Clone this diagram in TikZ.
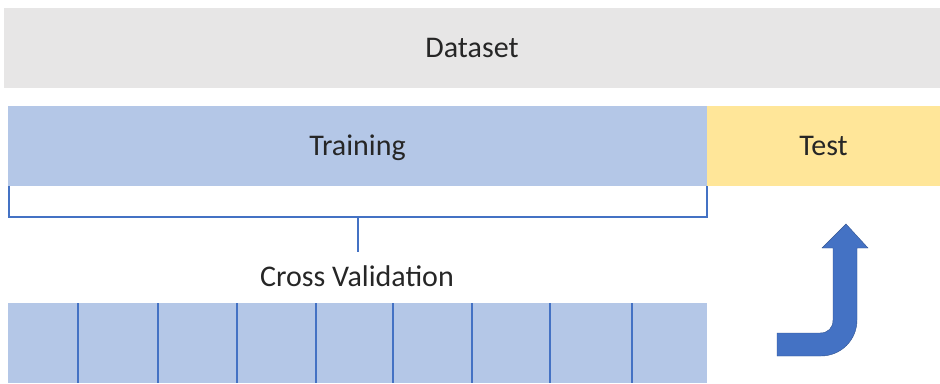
\documentclass[tikz,border=0pt]{standalone}
\usepackage{fontspec}
\setmainfont{Carlito}
\usetikzlibrary{positioning,calc}
\definecolor{dsgrey}{HTML}{E7E6E6}
\definecolor{trainblue}{HTML}{B4C7E7}
\definecolor{testyellow}{HTML}{FFE699}
\definecolor{lineblue}{HTML}{4472C4}
\definecolor{edgeblue}{HTML}{2F528F}

\begin{document}
\begin{tikzpicture}[x=1pt, y=-1pt,
  every node/.style = {font=\fontsize{30}{36}\selectfont, text=black!85,
    text height=25pt, text depth=6pt},
  band/.style = {rectangle, anchor=north west, minimum height=80pt,
    inner sep=0pt, outer sep=0pt},
  bracketline/.style = {draw=lineblue, line width=2pt},
  foldline/.style = {draw=lineblue, line width=2.2pt}
  ]
  \useasboundingbox (0,0) rectangle (940,383);
  \node[band, fill=dsgrey, minimum width=936pt] (dataset) at (4,8) {Dataset};
  \node[band, fill=trainblue, minimum width=699pt] (training) at (8,106) {Training};
  \node[band, fill=testyellow, minimum width=233pt, anchor=west] (test)
    at (training.east) {Test};
  % bracket under the training part
  \draw[bracketline] (training.south west) ++(1,0) -- ++(0,31) coordinate (brkl)
    -- (brkl -| training.south east) coordinate (brkr) -- (training.south east);
  \coordinate (brkmid) at ($(brkl)!0.5!(brkr)$);
  \node (cv) at (357,277) {Cross Validation};
  \draw[bracketline] (brkmid) -- ++(0,35);
  % folds
  \node[band, fill=trainblue, minimum width=699pt] (folds) at (8,303) {};
  \foreach \x in {78,158,237,316,393,472,550,632}
    \draw[foldline] (\x,303) -- (\x,383);
  % arrow up to the test part
  \draw[fill=lineblue, draw=edgeblue, line width=0.4pt]
    (777,333) -- (820,333) .. controls (828,333) and (833,328) .. (833,320)
    -- (833,248) -- (822,248) -- (846,224) -- (868,248) -- (857,248)
    -- (857,320) .. controls (857,340) and (841,356) .. (821,356)
    -- (777,356) -- cycle;
\end{tikzpicture}
\end{document}
